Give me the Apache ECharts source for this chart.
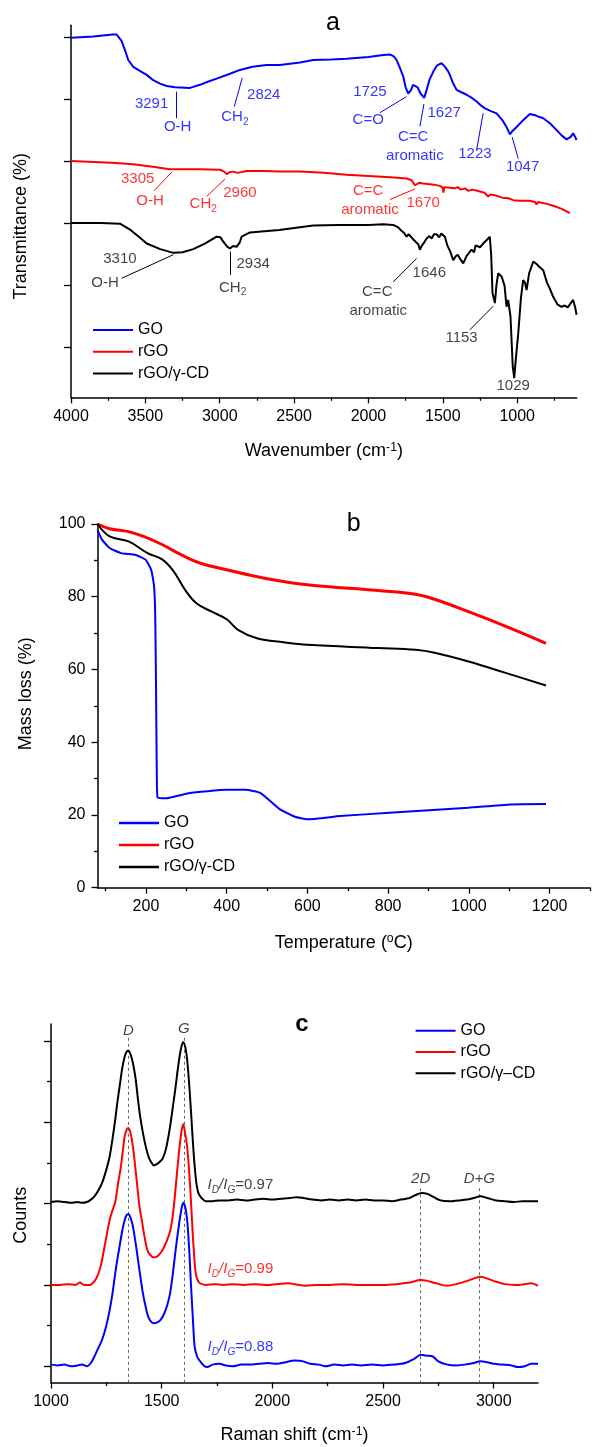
<!DOCTYPE html>
<html>
<head>
<meta charset="utf-8">
<title>FTIR / TGA / Raman</title>
<script src="https://cdn.jsdelivr.net/npm/echarts@6/dist/echarts.min.js"></script>
<style>
    html, body { margin: 0; padding: 0; background: #fff; }
    #main { width: 594px; height: 1447px; }
</style>
</head>
<body>
<div id="main"></div>
<script>
// (a) FTIR: wavenumber (cm-1) vs stacked transmittance (arbitrary offset units)
var ftirGO = [[4000,5.80],[3850,5.82],[3720,5.85],[3693,5.85],[3660,5.75],[3630,5.55],[3615,5.44],[3581,5.33],[3540,5.27],[3491,5.20],[3450,5.12],[3402,5.06],[3357,5.02],[3300,5.00],[3200,4.99],[3133,5.04],[3080,5.09],[3021,5.14],[2940,5.21],[2864,5.28],[2780,5.33],[2685,5.36],[2595,5.36],[2461,5.40],[2371,5.44],[2250,5.45],[2147,5.46],[2000,5.49],[1900,5.52],[1856,5.53],[1830,5.50],[1811,5.44],[1790,5.32],[1766,5.17],[1750,5.00],[1733,4.90],[1715,4.95],[1700,5.04],[1688,5.06],[1670,5.00],[1650,4.90],[1625,4.83],[1610,4.95],[1590,5.12],[1565,5.25],[1540,5.35],[1509,5.39],[1485,5.33],[1465,5.26],[1453,5.20],[1430,5.06],[1408,4.96],[1375,4.92],[1340,4.88],[1300,4.82],[1273,4.77],[1240,4.70],[1217,4.66],[1180,4.62],[1139,4.58],[1110,4.50],[1094,4.45],[1070,4.35],[1049,4.24],[1030,4.30],[1004,4.36],[960,4.47],[915,4.57],[880,4.55],[850,4.52],[825,4.50],[780,4.42],[735,4.31],[700,4.22],[668,4.16],[640,4.20],[624,4.26],[610,4.20],[601,4.15]];
var ftirRGO = [[4000,3.81],[3805,3.79],[3700,3.78],[3581,3.76],[3450,3.72],[3335,3.68],[3133,3.68],[2998,3.67],[2970,3.64],[2953,3.60],[2935,3.63],[2909,3.64],[2880,3.62],[2819,3.65],[2700,3.65],[2595,3.64],[2461,3.64],[2300,3.62],[2147,3.59],[2000,3.57],[1850,3.55],[1744,3.53],[1710,3.50],[1688,3.42],[1660,3.46],[1632,3.45],[1600,3.44],[1560,3.43],[1520,3.41],[1500,3.38],[1496,3.30],[1490,3.39],[1450,3.38],[1420,3.37],[1400,3.39],[1380,3.35],[1350,3.37],[1330,3.33],[1300,3.35],[1251,3.32],[1220,3.30],[1195,3.24],[1180,3.27],[1150,3.26],[1100,3.22],[1060,3.21],[1027,3.18],[980,3.17],[920,3.17],[880,3.15],[870,3.11],[860,3.15],[800,3.12],[758,3.09],[700,3.04],[646,2.97]];
var ftirCD = [[4000,2.81],[3800,2.81],[3671,2.80],[3600,2.70],[3540,2.58],[3491,2.48],[3400,2.39],[3312,2.33],[3250,2.34],[3178,2.39],[3100,2.48],[3021,2.59],[2995,2.58],[2976,2.51],[2950,2.43],[2931,2.40],[2910,2.44],[2886,2.43],[2865,2.50],[2853,2.59],[2797,2.66],[2600,2.70],[2371,2.77],[2200,2.78],[2000,2.78],[1900,2.79],[1834,2.78],[1800,2.74],[1780,2.69],[1760,2.65],[1744,2.59],[1730,2.63],[1720,2.60],[1700,2.55],[1680,2.50],[1665,2.47],[1654,2.38],[1640,2.45],[1625,2.50],[1609,2.56],[1590,2.60],[1575,2.56],[1560,2.63],[1542,2.63],[1525,2.58],[1510,2.64],[1486,2.59],[1470,2.45],[1450,2.35],[1430,2.21],[1415,2.27],[1400,2.30],[1380,2.22],[1363,2.16],[1340,2.28],[1307,2.38],[1290,2.34],[1280,2.45],[1250,2.42],[1229,2.48],[1200,2.55],[1184,2.59],[1175,2.30],[1166,1.68],[1150,1.52],[1140,1.80],[1128,2.00],[1115,1.98],[1105,1.95],[1085,1.80],[1072,1.46],[1061,1.57],[1045,1.30],[1030,0.50],[1020,0.31],[1010,0.60],[993,1.03],[975,1.60],[960,1.89],[948,1.85],[937,1.73],[920,2.00],[892,2.19],[870,2.15],[850,2.10],[825,2.05],[800,1.85],[780,1.75],[758,1.62],[730,1.50],[702,1.46],[680,1.48],[660,1.45],[640,1.52],[624,1.57],[610,1.45],[601,1.33]];

// (b) TGA: temperature (C) vs mass (%)
var tgaGO = [[80,98.4],[91,95.7],[110,93.4],[138,92.0],[175,91.5],[199,90.2],[213,87.4],[220,83.0],[223,75.0],[225,55.0],[227,30.0],[229,24.8],[250,24.6],[306,26.0],[400,26.9],[447,26.9],[484,26.0],[531,21.6],[569,19.5],[600,18.8],[681,19.7],[803,20.6],[999,22.0],[1102,22.9],[1191,23.0]];
var tgaRGO = [[80,100],[110,98.7],[157,97.9],[194,96.6],[241,94.3],[288,91.5],[335,89.2],[400,87.4],[494,85.1],[600,83.3],[775,81.7],[868,80.7],[915,79.3],[999,75.9],[1093,71.8],[1191,67.2]];
var tgaCD = [[80,100],[110,96.6],[157,95.2],[204,92.0],[241,90.2],[269,86.9],[297,81.9],[325,78.2],[363,75.9],[400,73.8],[428,70.9],[475,68.6],[541,67.5],[600,66.8],[775,65.9],[868,65.4],[915,64.6],[999,62.2],[1093,59.0],[1191,55.6]];

// (c) Raman: shift (cm-1) vs stacked counts (offset units)
var ramanGO = [[1000,0.22],[1030,0.21],[1060,0.22],[1090,0.20],[1120,0.21],[1140,0.22],[1162,0.20],[1180,0.24],[1196,0.32],[1213,0.42],[1230,0.52],[1248,0.68],[1265,0.89],[1278,1.10],[1290,1.34],[1300,1.52],[1312,1.71],[1322,1.87],[1333,2.00],[1342,2.06],[1350,2.07],[1360,2.02],[1370,1.92],[1382,1.72],[1393,1.51],[1404,1.30],[1415,1.10],[1427,0.94],[1439,0.81],[1452,0.75],[1464,0.73],[1480,0.74],[1495,0.77],[1510,0.84],[1525,0.95],[1538,1.10],[1550,1.33],[1563,1.63],[1575,1.88],[1586,2.08],[1597,2.21],[1607,2.15],[1615,2.00],[1624,1.65],[1632,1.22],[1641,0.78],[1649,0.44],[1660,0.32],[1674,0.26],[1690,0.21],[1705,0.19],[1730,0.22],[1760,0.23],[1790,0.21],[1820,0.20],[1860,0.22],[1900,0.22],[1940,0.23],[1980,0.24],[2020,0.23],[2060,0.25],[2100,0.27],[2140,0.26],[2170,0.23],[2210,0.22],[2240,0.20],[2280,0.22],[2320,0.21],[2360,0.22],[2400,0.21],[2450,0.22],[2500,0.21],[2550,0.22],[2600,0.24],[2640,0.29],[2670,0.34],[2700,0.33],[2725,0.32],[2750,0.26],[2790,0.22],[2830,0.21],[2870,0.22],[2910,0.24],[2940,0.26],[2970,0.25],[3000,0.23],[3040,0.22],[3080,0.21],[3110,0.19],[3140,0.20],[3170,0.23],[3200,0.23]];
var ramanRGO = [[1000,1.20],[1040,1.20],[1080,1.21],[1110,1.20],[1130,1.23],[1150,1.20],[1175,1.20],[1195,1.24],[1213,1.33],[1226,1.45],[1239,1.63],[1252,1.82],[1265,2.00],[1278,2.12],[1290,2.22],[1303,2.45],[1316,2.66],[1325,2.86],[1333,3.03],[1342,3.11],[1350,3.13],[1360,3.06],[1370,2.90],[1382,2.62],[1393,2.33],[1402,2.12],[1410,2.00],[1422,1.80],[1435,1.63],[1448,1.57],[1461,1.54],[1480,1.55],[1504,1.63],[1520,1.72],[1538,1.86],[1550,2.05],[1558,2.25],[1572,2.66],[1585,3.00],[1597,3.18],[1607,3.05],[1615,2.90],[1624,2.60],[1632,2.25],[1640,1.84],[1647,1.55],[1654,1.34],[1664,1.25],[1674,1.22],[1700,1.20],[1740,1.21],[1780,1.20],[1820,1.21],[1870,1.20],[1920,1.21],[1970,1.20],[2020,1.21],[2070,1.22],[2100,1.21],[2150,1.19],[2200,1.20],[2260,1.20],[2320,1.21],[2380,1.20],[2440,1.20],[2500,1.20],[2560,1.21],[2620,1.23],[2670,1.26],[2700,1.25],[2740,1.22],[2790,1.19],[2830,1.21],[2880,1.25],[2920,1.29],[2940,1.30],[2970,1.28],[3010,1.24],[3050,1.21],[3100,1.20],[3140,1.21],[3170,1.22],[3200,1.19]];
var ramanCD = [[1000,2.22],[1030,2.23],[1060,2.22],[1090,2.21],[1120,2.22],[1140,2.21],[1162,2.22],[1180,2.25],[1196,2.29],[1213,2.36],[1230,2.45],[1248,2.60],[1265,2.78],[1278,3.00],[1290,3.23],[1300,3.45],[1312,3.68],[1322,3.87],[1333,4.01],[1342,4.07],[1350,4.08],[1360,4.03],[1370,3.93],[1382,3.74],[1393,3.48],[1404,3.25],[1418,3.03],[1431,2.87],[1443,2.76],[1455,2.70],[1464,2.67],[1480,2.69],[1497,2.73],[1504,2.75],[1520,2.88],[1538,3.15],[1550,3.38],[1563,3.64],[1575,3.90],[1586,4.09],[1597,4.19],[1607,4.12],[1615,3.97],[1624,3.68],[1632,3.35],[1640,3.00],[1649,2.66],[1657,2.45],[1666,2.33],[1680,2.27],[1700,2.23],[1730,2.23],[1760,2.24],[1800,2.24],[1840,2.25],[1880,2.24],[1920,2.25],[1960,2.26],[2000,2.25],[2040,2.26],[2080,2.27],[2110,2.28],[2140,2.27],[2180,2.25],[2220,2.24],[2260,2.25],[2300,2.24],[2340,2.25],[2380,2.24],[2420,2.25],[2460,2.24],[2500,2.24],[2540,2.23],[2580,2.25],[2620,2.27],[2650,2.31],[2675,2.33],[2700,2.32],[2730,2.28],[2760,2.24],[2800,2.23],[2840,2.24],[2880,2.25],[2910,2.27],[2940,2.29],[2970,2.27],[3010,2.24],[3050,2.23],[3090,2.22],[3130,2.23],[3170,2.23],[3200,2.23]];

// tick values
var aMajor = [1000, 1500, 2000, 2500, 3000, 3500, 4000];
var aMinor = [750, 1250, 1750, 2250, 2750, 3250, 3750];
var aYTicks = [0.8, 1.8, 2.8, 3.8, 4.8, 5.8];
var bMajor = [200, 400, 600, 800, 1000, 1200];
var bMinor = [100, 300, 500, 700, 900, 1100, 1300];
var cMajor = [1000, 1500, 2000, 2500, 3000];
var cMinor = [1250, 1750, 2250, 2750];
var cYMajor = [0.2, 1.2, 2.2, 3.2, 4.2];
var cYMinor = [0.7, 1.7, 2.7, 3.7];

// peak annotations [text, x, y] and leader lines [[x1,y1],[x2,y2]]
var notesGO = [['3291',3458,4.73],['O-H',3283,4.37],['2824',2704,4.88],['CH2',2898,4.52],['1725',1990,4.93],['C=O',2002,4.47],['1627',1491,4.58],['C=C',1700,4.20],['aromatic',1688,3.90],['1223',1284,3.92],['1047',964,3.72]];
var linesGO = [[[3294,4.93],[3294,4.50]],[[2849,5.15],[2902,4.69]],[[1744,4.85],[1923,4.59]],[[1627,4.73],[1654,4.37]],[[1229,4.58],[1273,3.99]],[[1034,4.20],[993,3.85]]];
var notesRGO = [['3305',3552,3.52],['O-H',3469,3.17],['2960',2864,3.29],['CH2',3111,3.12],['C=C',2002,3.33],['aromatic',1990,3.03],['1670',1632,3.13]];
var linesRGO = [[[3323,3.63],[3442,3.33]],[[2965,3.52],[3088,3.24]],[[1688,3.36],[1856,3.19]]];
var notesCD = [['3310',3671,2.23],['O-H',3771,1.84],['2934',2775,2.16],['CH2',2913,1.77],['1646',1591,2.00],['C=C',1941,1.70],['aromatic',1934,1.39],['1153',1374,0.96],['1029',1027,0.18]];
var linesCD = [[[3312,2.30],[3659,1.92]],[[2931,2.35],[2931,1.97]],[[1676,2.24],[1834,1.86]],[[1161,1.47],[1318,1.09]]];

var bandNames = [['D',1350,4.33],['G',1600,4.35],['2D',2670,2.51],['D+G',2935,2.51]];
var bandLines = [[[1350,4.24],[1350,0]],[[1600,4.24],[1600,0]],[[2670,2.39],[2670,0]],[[2935,2.39],[2935,0]]];
var ratioCD = [['ID/IG=0.97',1705,2.43]];
var ratioRGO = [['ID/IG=0.99',1705,1.40]];
var ratioGO = [['ID/IG=0.88',1705,0.44]];

var FONT = '"Liberation Sans", Arial, sans-serif';
var BLUE = '#0000ff', RED = '#ff0000', BLACK = '#000000';

function richStyles(color, size) {
    return {
        m: {color: color, fontSize: size, fontFamily: FONT, lineHeight: 20},
        i: {color: color, fontSize: size, fontFamily: FONT, fontStyle: 'italic', lineHeight: 20},
        s: {color: color, fontSize: size * 0.68, fontFamily: FONT, lineHeight: 10, verticalAlign: 'bottom'},
        si: {color: color, fontSize: size * 0.68, fontFamily: FONT, fontStyle: 'italic', lineHeight: 10, verticalAlign: 'bottom'},
        u: {color: color, fontSize: size * 0.68, fontFamily: FONT, lineHeight: 10, verticalAlign: 'top'}
    };
}

function fmt(t) {
    if (t === 'CH2') return '{m|CH}{s|2}';
    if (t.indexOf('ID/IG') === 0) return '{i|I}{si|D}{i|/I}{si|G}{m|' + t.slice(5) + '}';
    return '{m|' + t + '}';
}

function noteSeries(notes, color, xi, yi, size, pos, italic) {
    return {
        type: 'scatter', xAxisIndex: xi, yAxisIndex: yi, silent: true,
        symbolSize: 1, itemStyle: {color: 'rgba(0,0,0,0)'},
        data: notes.map(function (n) { return {name: n[0], value: [n[1], n[2]]}; }),
        label: {
            show: true, position: pos || 'inside', distance: 0,
            formatter: function (p) { return italic ? '{i|' + p.name + '}' : fmt(p.name); },
            rich: richStyles(color, size)
        },
        z: 5
    };
}

function leaderSeries(segs, color, xi, yi, dashed) {
    return {
        type: 'lines', coordinateSystem: 'cartesian2d', xAxisIndex: xi, yAxisIndex: yi,
        silent: true, polyline: false,
        lineStyle: {color: color, width: 1, type: dashed ? [3, 3] : 'solid', opacity: 1},
        data: segs.map(function (s) { return {coords: s}; }),
        z: 1
    };
}

function curve(name, data, color, width, xi, yi, smooth) {
    return {
        name: name, type: 'line', xAxisIndex: xi, yAxisIndex: yi, data: data,
        symbol: 'none', smooth: smooth,
        lineStyle: {color: color, width: width}, itemStyle: {color: color},
        z: 3
    };
}

var axisLineStyle = {show: true, lineStyle: {color: '#000', width: 1.5}};
var tickLabel = {fontSize: 16, color: '#000', fontFamily: FONT, formatter: function (v) { return String(v); }};

function mainX(grid, min, max, inverse, major, name, gap) {
    return {
        type: 'value', gridIndex: grid, min: min, max: max, inverse: inverse, position: 'bottom',
        axisLine: axisLineStyle, splitLine: {show: false},
        axisTick: {show: true, customValues: major, length: 6, lineStyle: {color: '#000', width: 1.3}},
        axisLabel: Object.assign({customValues: major, margin: 11}, tickLabel),
        name: name, nameLocation: 'middle', nameGap: gap,
        nameTextStyle: {fontSize: 18, color: '#000', fontFamily: FONT, rich: richStyles('#000', 18)}
    };
}

function minorX(grid, min, max, inverse, minor) {
    return {
        type: 'value', gridIndex: grid, min: min, max: max, inverse: inverse, position: 'bottom', offset: 0,
        axisLine: {show: false}, splitLine: {show: false}, axisLabel: {show: false},
        axisTick: {show: true, customValues: minor, length: 3.5, lineStyle: {color: '#000', width: 1.3}}
    };
}

var legendText = {fontSize: 16, color: '#000', fontFamily: FONT, lineHeight: 16};

var option = {
    animation: false,
    backgroundColor: '#fff',
    textStyle: {fontFamily: FONT},
    grid: [
        {left: 71, top: 25.3, width: 505.7, height: 372, outerBoundsMode: 'none'},
        {left: 97.5, top: 524, width: 492.5, height: 363.7, outerBoundsMode: 'none'},
        {left: 51, top: 1024, width: 487, height: 358.5, outerBoundsMode: 'none'}
    ],
    xAxis: [
        mainX(0, 600, 4000, true, aMajor, '{m|Wavenumber (cm}{u|-1}{m|)}', 44),
        minorX(0, 600, 4000, true, aMinor),
        mainX(1, 80, 1300, false, bMajor, '{m|Temperature (}{u|o}{m|C)}', 45),
        minorX(1, 80, 1300, false, bMinor),
        mainX(2, 1000, 3200, false, cMajor, '{m|Raman shift (cm}{u|-1}{m|)}', 43),
        minorX(2, 1000, 3200, false, cMinor)
    ],
    yAxis: [
        {
            type: 'value', gridIndex: 0, min: 0, max: 6,
            axisLine: axisLineStyle, splitLine: {show: false}, axisLabel: {show: false},
            axisTick: {show: true, customValues: aYTicks, length: 7, lineStyle: {color: '#000', width: 1.3}},
            name: 'Transmittance (%)', nameLocation: 'middle', nameGap: 41,
            nameTextStyle: {fontSize: 18, color: '#000', fontFamily: FONT, padding: [0, 30, 0, 0]}
        },
        {
            type: 'value', gridIndex: 1, min: 0, max: 100, interval: 20,
            axisLine: axisLineStyle, splitLine: {show: false},
            axisTick: {show: true, length: 6, lineStyle: {color: '#000', width: 1.3}},
            minorTick: {show: true, splitNumber: 2, length: 3.5, lineStyle: {color: '#000', width: 1.3}},
            axisLabel: Object.assign({margin: 12}, tickLabel),
            name: 'Mass loss (%)', nameLocation: 'middle', nameGap: 62,
            nameTextStyle: {fontSize: 18, color: '#000', fontFamily: FONT, padding: [0, 0, 0, 24]}
        },
        {
            type: 'value', gridIndex: 2, min: 0, max: 4.41,
            axisLine: axisLineStyle, splitLine: {show: false}, axisLabel: {show: false},
            axisTick: {show: true, customValues: cYMajor, length: 7, lineStyle: {color: '#000', width: 1.3}},
            name: 'Counts', nameLocation: 'middle', nameGap: 21,
            nameTextStyle: {fontSize: 18, color: '#000', fontFamily: FONT, padding: [0, 24, 0, 0]}
        },
        {
            type: 'value', gridIndex: 2, min: 0, max: 4.41, position: 'left', offset: 0,
            axisLine: {show: false}, splitLine: {show: false}, axisLabel: {show: false},
            axisTick: {show: true, customValues: cYMinor, length: 4, lineStyle: {color: '#000', width: 1.3}}
        }
    ],
    legend: [
        {
            orient: 'vertical', left: 93, top: 322, padding: 0, itemWidth: 40, itemHeight: 2, itemGap: 5.7,
            icon: 'rect', textStyle: legendText, selectedMode: false,
            data: ['GO', 'rGO', 'rGO/γ-CD']
        },
        {
            orient: 'vertical', left: 119, top: 815, padding: 0, itemWidth: 40, itemHeight: 2.5, itemGap: 6,
            icon: 'rect', textStyle: legendText, selectedMode: false,
            data: ['GO', 'rGO', 'rGO/γ-CD']
        },
        {
            orient: 'vertical', left: 415.6, top: 1022.7, padding: 0, itemWidth: 40, itemHeight: 2, itemGap: 5.3,
            icon: 'rect', textStyle: legendText, selectedMode: false,
            data: ['GO', 'rGO', 'rGO/γ–CD']
        }
    ],
    graphic: [
        {type: 'text', x: 333, y: 23, style: {text: 'a', fontSize: 25, fontFamily: FONT, fill: '#000', align: 'center', verticalAlign: 'middle'}},
        {type: 'text', x: 353.6, y: 524, style: {text: 'b', fontSize: 25, fontFamily: FONT, fill: '#000', align: 'center', verticalAlign: 'middle'}},
        {type: 'text', x: 302, y: 1024, style: {text: 'c', fontSize: 24, fontWeight: 'bold', fontFamily: FONT, fill: '#000', align: 'center', verticalAlign: 'middle'}}
    ],
    series: [
        // a
        curve('GO', ftirGO, BLUE, 2, 0, 0, false),
        curve('rGO', ftirRGO, RED, 2, 0, 0, false),
        curve('rGO/γ-CD', ftirCD, BLACK, 2, 0, 0, false),
        leaderSeries(linesGO, BLUE, 0, 0),
        leaderSeries(linesRGO, RED, 0, 0),
        leaderSeries(linesCD, BLACK, 0, 0),
        noteSeries(notesGO, BLUE, 0, 0, 15),
        noteSeries(notesRGO, RED, 0, 0, 15),
        noteSeries(notesCD, '#111', 0, 0, 15),
        // b
        curve('GO', tgaGO, BLUE, 2, 2, 1, 0.15),
        curve('rGO', tgaRGO, RED, 3, 2, 1, 0.4),
        curve('rGO/γ-CD', tgaCD, BLACK, 2, 2, 1, 0.4),
        // c
        leaderSeries(bandLines, '#666', 4, 2, true),
        curve('GO', ramanGO, BLUE, 2, 4, 2, 0.3),
        curve('rGO', ramanRGO, RED, 2, 4, 2, 0.3),
        curve('rGO/γ–CD', ramanCD, BLACK, 2, 4, 2, 0.3),
        noteSeries(bandNames, '#111', 4, 2, 15, 'inside', true),
        noteSeries(ratioCD, '#111', 4, 2, 15, 'right'),
        noteSeries(ratioRGO, RED, 4, 2, 15, 'right'),
        noteSeries(ratioGO, BLUE, 4, 2, 15, 'right')
    ]
};

var myChart = echarts.init(document.getElementById('main'), null, {renderer: 'canvas'});
myChart.setOption(option);
</script>
</body>
</html>
